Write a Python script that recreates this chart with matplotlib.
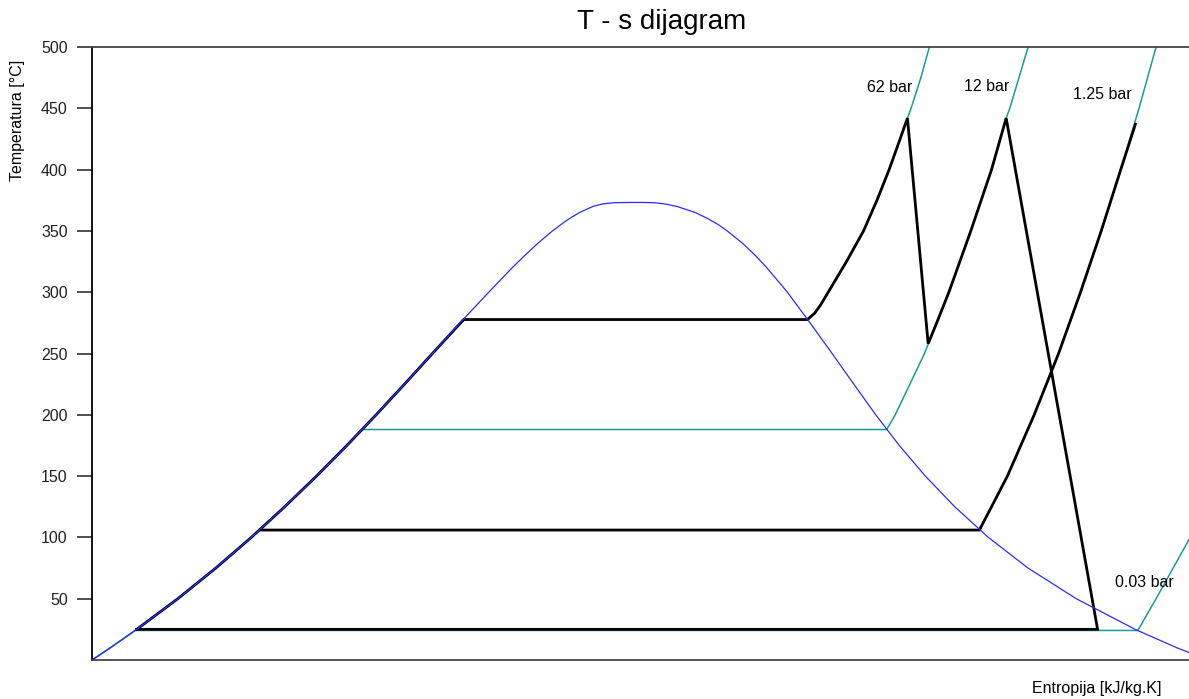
import matplotlib.pyplot as plt

plt.rcParams['font.family'] = ['Liberation Sans', 'DejaVu Sans']

# saturation dome (liquid side, vapour side)
s_liq = [0.0, 0.151, 0.367, 0.704, 1.016, 1.307, 1.581, 1.842, 2.091, 2.331,
         2.564, 2.793, 3.019, 3.255, 3.448, 3.551, 3.659, 3.778, 3.845, 3.916,
         4.000, 4.111, 4.190, 4.280, 4.400, 4.520]
T_liq = [0, 10, 25, 50, 75, 100, 125, 150, 175, 200,
         225, 250, 275, 300, 320, 330, 340, 350, 355, 360,
         365, 370, 372, 373, 373.2, 373.2]
s_vap = [4.610, 4.700, 4.797, 4.950, 5.053, 5.140, 5.211, 5.336, 5.442, 5.536,
         5.705, 5.891, 6.072, 6.250, 6.430, 6.623, 6.837, 7.078, 7.354, 7.679,
         8.075, 8.558, 8.900, 9.156]
T_vap = [373, 372, 370, 365, 360, 355, 350, 340, 330, 320,
         300, 275, 250, 225, 200, 175, 150, 125, 100, 75,
         50, 25, 10, 0]

# isobars: compressed liquid along sat. line, evaporation, superheat
p_labels = ["62 bar", "12 bar", "1.25 bar", "0.03 bar"]
T_sat = [277.7, 188.0, 106.0, 24.1]
s_f = [3.05, 2.22, 1.39, 0.35]
sh_s = [
    [5.87, 5.93, 5.98, 6.04, 6.19, 6.33, 6.44, 6.54, 6.63, 6.69, 6.72, 6.80, 6.87],
    [6.52, 6.59, 6.71, 6.83, 6.93, 7.03, 7.21, 7.38, 7.50, 7.53, 7.68],
    [7.28, 7.38, 7.51, 7.73, 7.93, 8.11, 8.28, 8.44, 8.59, 8.73],
    [8.58, 8.73, 9.01],
]
sh_T = [
    [277.7, 283, 290, 300, 325, 350, 375, 400, 425, 442, 450, 475, 500],
    [188.0, 200, 225, 250, 275, 300, 350, 400, 442, 450, 500],
    [106.0, 125, 150, 200, 250, 300, 350, 400, 450, 500],
    [24.1, 50, 100],
]
label_s = [6.54, 7.34, 8.29, 8.63]
label_T = [467, 468, 461, 63]

# cycle with reheat
cyc_s = [0.367, 0.704, 1.016, 1.307, 1.581, 1.842, 2.091, 2.331, 2.564, 2.793, 3.05,
         5.87, 5.93, 5.98, 6.04, 6.19, 6.33, 6.44, 6.54, 6.63, 6.69,
         6.86, 6.93, 7.03, 7.21, 7.38, 7.50,
         8.25, 0.367]
cyc_T = [25, 50, 75, 100, 125, 150, 175, 200, 225, 250, 277.7,
         277.7, 283, 290, 300, 325, 350, 375, 400, 425, 442,
         258, 275, 300, 350, 400, 442,
         25, 25]
# extraction branch at 1.25 bar
br_s = [1.39, 7.28, 7.38, 7.51, 7.73, 7.93, 8.11, 8.28, 8.44, 8.56]
br_T = [106, 106, 125, 150, 200, 250, 300, 350, 400, 437]

teal = '#1a9a9a'
fig = plt.figure(figsize=(11.89, 6.99), dpi=100)
ax = fig.add_axes([92/1189, 1-660/699, 1-92/1189, (660-47)/699])

# liquid line of the isobars
n_liq = [i for i in range(len(T_liq)) if T_liq[i] <= T_sat[0]]
ax.plot([s_liq[i] for i in n_liq] + [s_f[0]], [T_liq[i] for i in n_liq] + [T_sat[0]],
        color=teal, lw=1.2)
for k in range(len(p_labels)):
    ax.plot([s_f[k]] + sh_s[k], [T_sat[k]] + sh_T[k], color=teal, lw=1.1)
    ax.text(label_s[k], label_T[k], p_labels[k], fontsize=11.5, ha='center', va='center')

ax.plot(cyc_s, cyc_T, color='black', lw=2.0, solid_joinstyle='miter')
ax.plot(br_s, br_T, color='black', lw=2.0)

ax.plot(s_liq + s_vap, T_liq + T_vap, color='#2b2bff', lw=0.9)

ax.set_xlim(0, 9)
ax.set_ylim(0, 500)
ax.set_xticks([])
ax.set_yticks(range(50, 501, 50))
ax.tick_params(axis='y', length=11, width=1.1, pad=6.5, labelsize=11.5, colors='#202020')
ax.spines['right'].set_visible(False)
ax.spines['left'].set_linewidth(1.3)
ax.spines['left'].set_color('black')
for sp in ['top', 'bottom']:
    ax.spines[sp].set_linewidth(1.3)
    ax.spines[sp].set_color('#444444')

fig.text(662/1189, 1-22/699, "T - s dijagram", fontsize=20, ha='center', va='center')
fig.text(18/1189, 1-60/699, "Temperatura [°C]", fontsize=11.5, rotation=90, ha='center', va='top')
fig.text(1032/1189, 1-688/699, "Entropija [kJ/kg.K]", fontsize=11.5, ha='left', va='center')

fig.savefig('out.png', dpi=100)
